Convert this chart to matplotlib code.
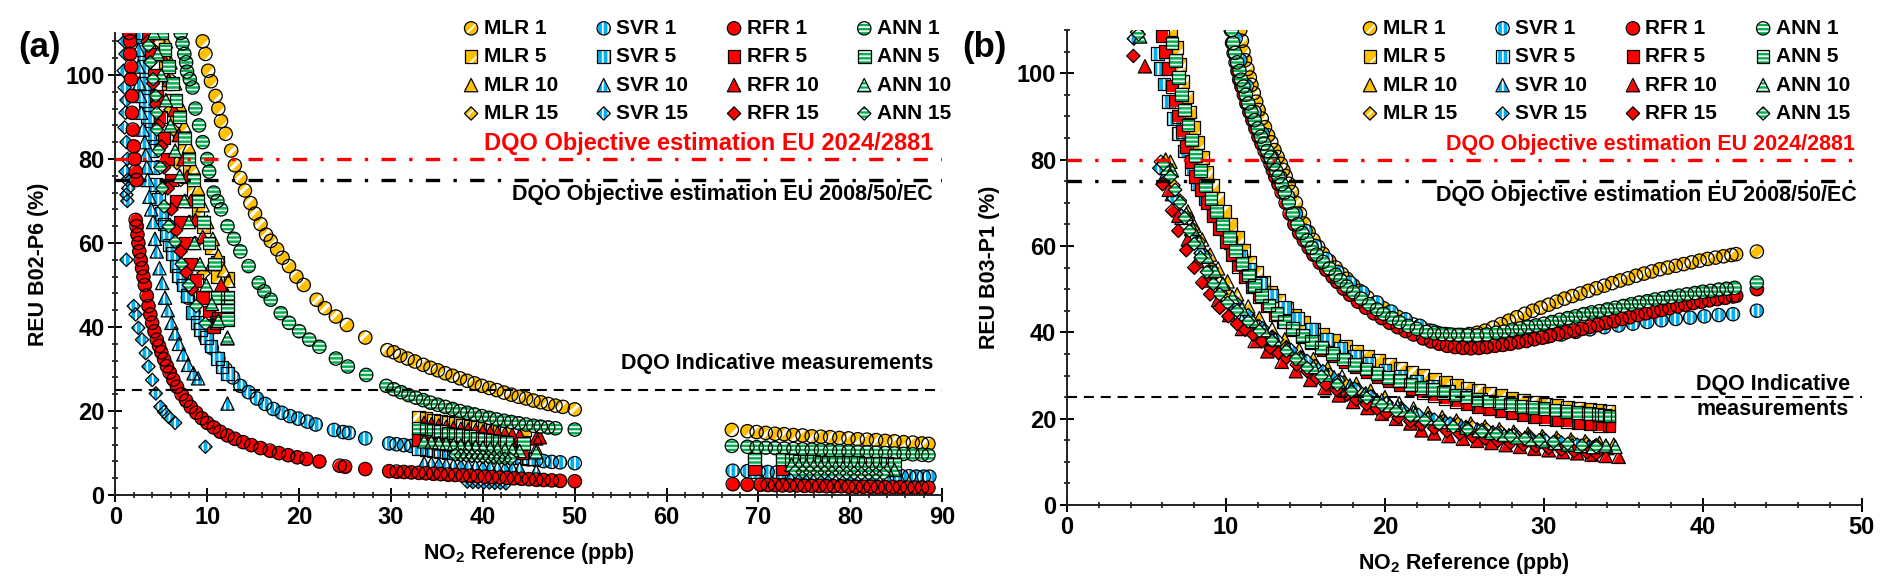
import numpy as np
import matplotlib.pyplot as plt
from matplotlib.ticker import MultipleLocator

plt.rcParams['font.family'] = ['Liberation Sans', 'DejaVu Sans']
plt.rcParams['font.weight'] = 'bold'
plt.rcParams['hatch.linewidth'] = 1.3
plt.rcParams['mathtext.fontset'] = 'custom'
plt.rcParams['mathtext.rm'] = 'Liberation Sans:bold'
plt.rcParams['mathtext.bf'] = 'Liberation Sans:bold'
plt.rcParams['mathtext.it'] = 'Liberation Sans:bold'

# ---------------- panel (a): B02-P6 ----------------
a_mlr1 = [(9.5,108),(9.8,105),(10.1,101),(10.4,98.5),(10.9,95),(11.2,92),(11.5,89),(12.0,86),(12.6,82),(13.0,78.5),(13.6,75.5),(14.1,72.5),(14.7,69.5),(15.2,67),(15.8,64.5),(16.4,62),(16.9,60.5),(17.6,58.5),(18.2,56.5),(18.9,54.5),(19.7,52),(20.5,50),(21.9,46.5),(22.8,44.5),(24.0,42.5),(25.2,40.5),(27.2,37.5),(29.6,34.5),(30.3,34),(31.0,33.2),(31.8,32.5),(32.6,31.8),(33.5,31),(34.3,30.3),(35.1,29.7),(35.9,29),(36.7,28.4),(37.5,27.8),(38.3,27.2),(39.1,26.6),(39.9,26),(40.7,25.5),(41.5,25),(42.3,24.4),(43.1,23.9),(43.9,23.4),(44.7,23),(45.5,22.5),(46.3,22.1),(47.1,21.7),(47.9,21.3),(48.7,21),(50.0,20.4),(67.1,15.5),(68.8,15.2),(69.8,15),(70.8,14.8),(71.8,14.6),(72.8,14.5),(73.8,14.3),(74.8,14.2),(75.8,14.0),(76.8,13.9),(77.8,13.8),(78.8,13.6),(79.8,13.5),(80.8,13.3),(81.8,13.2),(82.8,13.1),(83.8,12.9),(84.8,12.8),(85.8,12.6),(86.8,12.5),(87.8,12.3),(88.5,12.2)]
a_mlr5 = [(4.6,110),(5.0,106),(5.4,102),(5.8,98),(6.2,94),(6.6,90),(7.0,86),(7.5,82),(8.0,77),(8.5,72),(9.0,68),(9.6,64),(10.4,59),(11.1,55.5),(11.1,52),(12.2,51.5),(33.0,18.5),(33.8,18.2),(34.6,17.9),(35.4,17.6),(36.2,17.3),(37.0,17.0),(37.8,16.7),(38.6,16.4),(39.4,16.1),(40.2,15.8),(41.0,15.5),(41.8,15.3),(42.6,15.1),(44.5,15.5),(69.6,9.8),(72.6,9.8),(73.6,9.3),(74.4,9.2),(75.2,9.1),(76.0,9.0),(76.8,8.9),(77.6,8.8),(78.4,8.7),(79.2,8.7),(80.0,8.6),(80.8,8.5),(81.6,8.5),(82.4,8.4),(83.2,8.3),(84.0,8.3)]
a_mlr10 = [(5.5,108),(6.0,103),(6.5,98),(7.0,93),(7.5,88),(8.0,83),(8.5,78),(9.0,73),(9.5,69),(10.0,65),(10.6,61),(11.2,57),(11.8,53.5),(12.3,51),(33.6,14.2),(34.4,14.0),(35.2,13.8),(36.0,13.6),(36.8,13.4),(37.6,13.2),(38.4,13.0),(39.2,12.9),(40.0,12.7),(40.8,12.5),(41.6,12.4),(42.4,12.2),(43.2,12.1),(44.0,11.9),(45.8,11.0),(73.6,8.6),(74.4,8.5),(75.2,8.4),(76.0,8.3),(76.8,8.2),(77.6,8.1),(78.4,8.0),(79.2,7.9),(80.0,7.8),(80.8,7.7),(81.6,7.6),(82.4,7.5),(83.2,7.4),(84.0,7.3)]
a_mlr15 = [(4.7,108),(5.3,104),(6.0,99),(6.0,91.7),(6.3,87),(6.7,79),(7.1,75),(7.6,70),(8.1,65),(8.7,60),(9.6,52.8),(38.0,13.8),(38.6,13.6),(39.2,13.4),(39.8,13.2),(40.4,13.0),(41.0,12.9),(41.6,12.7),(42.2,12.6),(42.8,12.4),(74.0,8.0),(74.8,7.9),(75.6,7.8),(76.4,7.7),(77.2,7.6),(78.0,7.5),(78.8,7.4),(79.6,7.3),(80.4,7.3),(81.2,7.2),(82.0,7.1),(82.8,7.0),(83.6,7.0)]
a_svr1 = [(3.0,108),(3.2,104),(3.4,100),(3.6,96),(3.8,92),(4.0,88),(4.3,83),(4.6,78),(5.0,73),(5.4,68),(5.8,64),(6.3,59),(6.8,55),(7.3,51),(7.9,47),(8.5,43.5),(9.1,40.5),(9.8,37.5),(10.5,35),(11.2,32.5),(12.0,30),(12.8,28),(13.6,26),(14.5,24.5),(15.4,23),(16.3,21.7),(17.2,20.5),(18.1,19.6),(19.0,18.8),(19.9,18.2),(20.9,17.5),(21.8,16.8),(23.8,15.5),(24.8,15),(25.4,14.8),(27.2,13.5),(29.8,12.3),(30.6,12.1),(31.4,11.9),(32.2,11.7),(33.0,11.5),(33.8,11.3),(34.6,11.1),(35.4,10.9),(36.2,10.7),(37.0,10.5),(37.8,10.3),(38.6,10.1),(39.4,9.9),(40.2,9.7),(41.0,9.5),(41.8,9.3),(42.6,9.1),(43.4,8.9),(44.2,8.7),(45.0,8.5),(45.8,8.3),(46.6,8.1),(47.5,7.9),(48.4,7.8),(50.0,7.6),(67.2,5.8),(68.8,5.7),(70.0,5.6),(71.0,5.5),(72.0,5.4),(73.0,5.3),(74.0,5.2),(75.0,5.1),(76.0,5.0),(77.0,5.0),(78.0,4.9),(79.0,4.9),(80.0,4.8),(81.0,4.8),(82.0,4.7),(83.0,4.7),(84.0,4.6),(84.8,4.6),(85.6,4.5),(86.4,4.5),(87.2,4.4),(88.0,4.4),(88.6,4.4)]
a_svr5 = [(2.9,110),(3.0,106),(3.1,102),(3.2,98),(3.3,94),(3.5,90),(3.7,86),(3.9,82),(4.1,78),(4.4,74),(4.7,70.5),(5.0,67),(5.3,64.5),(5.6,62),(5.9,59.5),(6.2,57.5),(6.6,54.5),(6.9,52.3),(7.4,50),(7.8,47.5),(8.4,43.5),(8.9,41),(9.3,39.5),(9.9,37.5),(10.4,35.5),(11.1,32.5),(11.6,30.5),(12.2,29),(33.0,11.0),(33.8,10.8),(34.6,10.6),(35.4,10.4),(36.2,10.2),(37.0,10.0),(37.8,9.9),(38.6,9.8),(39.4,9.7),(40.2,9.6),(41.0,9.5),(41.8,9.3),(42.6,9.2),(43.4,9.0),(44.2,8.8),(45.0,8.6),(69.6,5.7),(72.6,5.6),(73.6,5.5),(74.4,5.5),(75.2,5.4),(76.0,5.4),(76.8,5.3),(77.6,5.3),(78.4,5.2),(79.2,5.2),(80.0,5.1),(80.8,5.1),(81.6,5.0),(82.4,5.0),(83.2,5.0),(84.0,4.9),(84.8,4.9)]
a_svr10 = [(2.5,106),(2.5,102),(2.6,98),(2.7,95),(2.8,91),(3.0,87),(3.2,84),(3.3,81),(3.4,78),(3.5,75),(3.7,71),(3.9,68),(4.1,65),(4.3,61),(4.5,58),(4.8,54),(5.1,50.5),(5.4,47),(5.7,44),(6.1,41),(6.5,38.5),(6.9,36),(7.4,33.5),(7.9,31),(8.5,29),(9.0,27.8),(12.2,21.8),(33.6,7.6),(34.4,7.5),(35.2,7.3),(36.0,7.2),(36.8,7.1),(37.6,7.0),(38.4,6.9),(39.2,6.8),(40.0,6.7),(40.8,6.6),(41.6,6.5),(42.4,6.4),(43.2,6.3),(44.0,6.2),(45.8,5.6),(73.6,4.8),(74.4,4.7),(75.2,4.7),(76.0,4.6),(76.8,4.5),(77.6,4.5),(78.4,4.4),(79.2,4.4),(80.0,4.3),(80.8,4.2),(81.6,4.2),(82.4,4.1),(83.2,4.1),(84.0,4.0)]
a_svr15 = [(1.0,108),(1.1,105),(0.9,101),(1.0,97),(1.2,94),(1.1,91),(1.0,87.5),(1.2,84),(1.3,80),(1.1,77),(1.3,75),(1.4,73),(1.2,71.5),(1.3,70),(1.2,56),(2.0,45),(2.2,43),(2.5,39.8),(2.9,37),(3.3,33.8),(3.6,30.6),(4.0,27.4),(4.4,24.2),(4.9,21),(5.3,19.8),(5.8,18.6),(6.5,17.2),(9.8,11.5),(38.3,3.2),(38.9,3.1),(39.5,3.1),(40.1,3.0),(40.7,3.0),(41.3,2.9),(41.9,2.9),(42.5,2.8),(74.0,2.6),(74.8,2.5),(75.6,2.5),(76.4,2.4),(77.2,2.4),(78.0,2.4),(78.8,2.3),(79.6,2.3),(80.4,2.3),(81.2,2.2),(82.0,2.2),(82.8,2.2),(83.6,2.1)]
a_rfr1 = [(1.5,110),(1.6,108),(1.6,105),(1.7,102),(1.7,99),(1.8,95),(1.8,91),(1.9,87),(2.0,83),(2.1,80),(2.2,77),(2.3,75),(2.2,65.5),(2.3,64),(2.4,62),(2.5,60),(2.6,58),(2.75,56),(2.9,54),(3.05,52),(3.2,50),(3.4,47.5),(3.6,45),(3.8,43),(4.0,41),(4.25,39),(4.5,37),(4.75,35.5),(5.0,34),(5.3,32.3),(5.6,30.7),(5.9,29.2),(6.3,27.5),(6.7,25.8),(7.2,24),(7.7,22.5),(8.2,21),(8.8,19.6),(9.4,18.3),(10.0,17.2),(10.7,16.1),(11.4,15.1),(12.2,14.2),(13.0,13.4),(13.9,12.6),(14.8,11.9),(15.8,11.2),(16.8,10.6),(17.8,10.0),(18.8,9.5),(19.8,9.0),(20.8,8.6),(22.2,8.0),(24.4,7.0),(25.0,6.8),(27.2,6.2),(29.8,5.7),(30.6,5.6),(31.4,5.5),(32.2,5.4),(33.0,5.3),(33.8,5.2),(34.6,5.1),(35.4,5.0),(36.2,4.9),(37.0,4.8),(37.8,4.7),(38.6,4.6),(39.4,4.5),(40.2,4.4),(41.0,4.3),(41.8,4.2),(42.6,4.1),(43.4,4.0),(44.2,3.9),(45.0,3.8),(45.8,3.7),(46.6,3.6),(47.5,3.5),(48.4,3.4),(50.0,3.3),(67.2,2.6),(68.8,2.5),(70.2,2.5),(71.0,2.4),(71.8,2.4),(72.6,2.3),(73.4,2.3),(74.2,2.3),(75.0,2.2),(75.8,2.2),(76.6,2.2),(77.4,2.1),(78.2,2.1),(79.0,2.1),(79.8,2.0),(80.6,2.0),(81.4,2.0),(82.2,2.0),(83.0,1.9),(83.8,1.9),(84.6,1.9),(85.4,1.9),(86.2,1.8),(87.0,1.8),(87.8,1.8),(88.5,1.8)]
a_rfr5 = [(3.6,110),(3.9,105),(4.2,100),(4.5,95),(4.9,90),(5.3,85),(5.7,80),(6.1,75),(6.6,70),(7.1,65),(7.6,60),(8.2,55),(8.8,51),(9.5,47),(10.2,43.5),(10.7,40),(11.0,41),(11.2,42),(33.0,13.2),(33.8,13.0),(34.6,12.8),(35.4,12.6),(36.2,12.4),(37.0,12.2),(37.8,12.0),(38.6,11.8),(39.4,11.6),(40.2,11.4),(41.0,11.2),(41.8,11.0),(42.6,10.8),(44.3,10.0),(69.6,6.2),(72.6,6.2),(73.6,7.8),(74.4,7.7),(75.2,7.6),(76.0,7.6),(76.8,7.5),(77.6,7.4),(78.4,7.4),(79.2,7.3),(80.0,7.3),(80.8,7.2),(81.6,7.2),(82.4,7.1),(83.2,7.1),(84.0,7.0)]
a_rfr10 = [(4.5,110),(5.0,105),(5.8,98.8),(6.4,91.7),(6.9,85.7),(7.4,80),(7.8,75.8),(8.2,70),(8.7,65.5),(9.5,61.5),(10.5,55),(11.5,50),(12.2,47.6),(12.2,37.3),(33.6,17.2),(34.4,16.9),(35.2,16.6),(36.0,16.3),(36.8,16.0),(37.6,15.8),(38.4,15.6),(39.2,15.4),(40.0,15.2),(40.8,15.0),(41.6,14.8),(42.4,14.6),(43.2,14.4),(44.0,14.2),(45.8,13.5),(46.2,13.8),(73.6,9.2),(74.4,9.1),(75.2,9.0),(76.0,9.0),(76.8,8.9),(77.6,8.9),(78.4,8.8),(79.2,8.8),(80.0,8.7),(80.8,8.7),(81.6,8.6),(82.4,8.6),(83.2,8.5),(84.0,8.5)]
a_rfr15 = [(3.5,108),(3.8,103),(4.1,98),(4.4,93),(4.7,88),(5.0,83),(5.3,78),(5.7,73),(6.1,68),(6.6,63),(7.1,58),(7.7,53),(8.3,49),(35.0,12.2),(35.8,12.0),(36.6,11.9),(37.4,11.8),(38.2,11.6),(39.0,11.5),(39.8,11.4),(40.6,11.3),(41.4,11.2),(42.2,11.1),(43.0,11.0),(74.0,7.6),(74.8,7.5),(75.6,7.5),(76.4,7.4),(77.2,7.4),(78.0,7.3),(78.8,7.3),(79.6,7.2),(80.4,7.2),(81.2,7.1),(82.0,7.1),(82.8,7.0),(83.6,7.0)]
a_ann1 = [(7.1,110),(7.3,107.5),(7.5,105),(7.7,103),(7.8,100.8),(8.1,99),(8.4,97),(8.7,92),(9.1,88),(9.5,84),(10.0,80),(10.2,77),(10.7,72),(11.1,70),(11.5,68),(12.2,64),(12.9,61),(13.6,58),(14.5,54.5),(15.6,50.5),(16.2,48.5),(16.9,46.5),(18.0,43.3),(18.9,41),(20.0,39),(21.1,37),(22.2,35.3),(24.0,32.5),(25.3,30.6),(27.3,28.6),(29.5,26),(30.3,25.2),(31.1,24.5),(31.9,23.8),(32.7,23.2),(33.5,22.6),(34.3,22),(35.1,21.5),(35.9,21),(36.7,20.5),(37.5,20),(38.3,19.6),(39.1,19.2),(39.9,18.8),(40.7,18.4),(41.5,18),(42.3,17.7),(43.1,17.4),(43.9,17.1),(44.7,16.8),(45.5,16.5),(46.3,16.3),(47.1,16.1),(47.9,15.9),(50.0,15.6),(67.1,11.7),(68.8,11.5),(69.8,11.4),(70.8,11.3),(71.8,11.2),(72.8,11.1),(73.8,11.0),(74.8,10.9),(75.8,10.8),(76.8,10.7),(77.8,10.6),(78.8,10.5),(79.8,10.4),(80.8,10.3),(81.8,10.2),(82.8,10.1),(83.8,10.0),(84.8,9.9),(85.8,9.8),(86.8,9.7),(87.8,9.6),(88.5,9.5)]
a_ann5 = [(5.0,110),(5.4,106),(5.8,102),(6.2,98),(6.6,94),(7.0,90),(7.5,85),(8.0,80),(8.5,75),(9.0,70),(9.6,65),(10.2,60),(10.8,55),(11.1,47),(12.2,47),(12.2,45),(12.2,41.8),(33.0,16.0),(33.8,15.7),(34.6,15.4),(35.4,15.1),(36.2,14.8),(37.0,14.5),(37.8,14.2),(38.6,13.9),(39.4,13.6),(40.2,13.3),(41.0,13.0),(41.8,12.8),(42.6,12.6),(44.4,12.2),(69.6,8.6),(72.6,8.6),(73.6,8.2),(74.4,8.1),(75.2,8.0),(76.0,8.0),(76.8,7.9),(77.6,7.9),(78.4,7.8),(79.2,7.8),(80.0,7.7),(80.8,7.7),(81.6,7.6),(82.4,7.6),(83.2,7.5),(84.0,7.5),(84.8,7.4)]
a_ann10 = [(4.2,110),(4.6,105),(5.0,100),(5.5,94),(6.0,88),(6.5,82),(7.0,76),(7.5,70),(8.0,65),(8.6,60),(9.2,55),(9.9,50),(10.5,45.5),(11.2,41.5),(12.2,37.5),(33.6,12.8),(34.4,12.6),(35.2,12.4),(36.0,12.2),(36.8,12.0),(37.6,11.8),(38.4,11.6),(39.2,11.5),(40.0,11.3),(40.8,11.1),(41.6,11.0),(42.4,10.8),(43.2,10.7),(44.0,10.5),(45.8,10.2),(73.6,7.2),(74.4,7.1),(75.2,7.0),(76.0,6.9),(76.8,6.8),(77.6,6.7),(78.4,6.6),(79.2,6.5),(80.0,6.5),(80.8,6.4),(81.6,6.3),(82.4,6.2),(83.2,6.2),(84.0,6.1),(84.8,6.0)]
a_ann15 = [(3.6,107),(3.8,103),(4.1,99),(4.4,95),(4.5,91),(4.5,87),(4.7,82),(4.9,78),(5.1,73),(5.3,68.7),(5.8,64),(6.5,60.3),(7.2,55),(8.0,50),(8.8,45),(9.8,40.8),(37.0,9.6),(37.6,9.5),(38.2,9.4),(38.8,9.3),(39.4,9.2),(40.0,9.1),(40.6,9.0),(41.2,8.9),(41.8,8.8),(42.4,8.7),(43.0,8.6),(74.0,5.6),(74.8,5.5),(75.6,5.5),(76.4,5.4),(77.2,5.4),(78.0,5.3),(78.8,5.3),(79.6,5.2),(80.4,5.2),(81.2,5.1),(82.0,5.1),(82.8,5.0),(83.6,5.0)]

# ---------------- panel (b): B03-P1 ----------------
b_mlr1 = [(10.9,110),(11.0,107.5),(11.1,105),(11.2,103),(11.35,101),(11.5,99),(11.6,97.3),(11.75,95.4),(11.9,93.4),(12.05,91.5),(12.25,89.5),(12.45,87.5),(12.65,85.6),(12.85,84),(13.05,82.2),(13.25,80.6),(13.45,79),(13.6,77.6),(13.75,76.2),(13.95,74.4),(14.15,72.5),(14.4,70),(14.65,67.5),(14.9,65.2),(15.2,63.2),(15.5,61.4),(15.8,59.8),(16.1,58.2),(16.5,56.5),(16.9,55),(17.3,53.5),(17.6,52.4),(18.0,50.9),(18.4,49.6),(18.9,48.1),(19.4,46.8),(19.9,45.6),(20.3,44.6),(20.8,43.6),(21.3,42.7),(21.8,41.8),(22.3,41.1),(22.8,40.4),(23.3,39.9),(23.8,39.6),(24.3,39.4),(24.8,39.4),(25.3,39.6),(25.8,39.9),(26.3,40.4),(26.8,41.1),(27.3,41.9),(27.8,42.7),(28.3,43.5),(28.8,44.3),(29.3,45.0),(29.8,45.7),(30.3,46.4),(30.8,47.1),(31.3,47.8),(31.8,48.4),(32.3,49.0),(32.8,49.6),(33.3,50.2),(33.8,50.8),(34.3,51.4),(34.8,52.0),(35.3,52.5),(35.8,53.1),(36.3,53.6),(36.8,54.1),(37.3,54.6),(37.8,55.0),(38.3,55.4),(38.8,55.8),(39.3,56.2),(39.8,56.6),(40.3,57.0),(40.8,57.3),(41.3,57.6),(41.8,57.9),(42.1,58.1),(43.4,58.7)]
b_mlr5 = [(6.5,110),(6.9,106),(7.1,102),(7.3,98),(7.5,94.5),(7.7,91),(7.95,87.5),(8.2,84),(8.5,80.5),(8.8,77),(9.15,74),(9.5,71),(9.9,68),(10.3,65),(10.7,62),(11.1,59),(11.5,56.3),(11.9,53.8),(12.35,51.5),(12.8,49.3),(13.3,47.3),(13.8,45.5),(14.3,43.9),(14.9,42.3),(15.5,40.8),(16.1,39.5),(16.8,38.1),(17.5,36.8),(18.2,35.6),(18.9,34.5),(19.6,33.5),(20.3,32.6),(21.0,31.7),(21.7,30.8),(22.4,30.0),(23.1,29.2),(23.8,28.5),(24.5,27.8),(25.2,27.1),(25.9,26.5),(26.6,25.9),(27.3,25.3),(28.0,24.8),(28.7,24.3),(29.4,23.8),(30.1,23.4),(30.8,23.0),(31.5,22.7),(32.2,22.4),(32.9,22.1),(33.5,21.9),(34.1,21.7)]
b_mlr10 = [(6.2,80),(6.5,79.5),(7.6,68),(8.0,64.7),(8.5,61.5),(9.0,58),(9.5,54.8),(10.1,51.8),(10.7,48.8),(11.4,46),(12.1,43.3),(12.9,40.8),(13.7,38.4),(14.6,36),(15.5,33.8),(16.4,31.7),(17.3,29.8),(18.2,28.1),(19.1,26.5),(20.0,25),(20.9,23.6),(21.8,22.4),(22.7,21.3),(23.6,20.4),(24.5,19.6),(25.4,18.9),(26.3,18.2),(27.2,17.6),(28.1,17.0),(29.0,16.5),(29.9,16.0),(30.8,15.6),(31.7,15.2),(32.6,14.8),(33.5,14.4),(34.4,14.0)]
b_mlr15 = [(4.4,109.5),(5.9,79.5),(6.3,77),(6.7,74),(7.1,70.5),(7.5,67),(7.9,64),(8.3,61),(8.7,57.8),(9.1,54.8),(9.6,51.5),(10.1,49),(10.7,46.5),(11.4,43.8),(12.1,41.4),(12.9,39),(13.8,36.6),(14.7,34.3),(15.6,32.2),(16.5,30.2),(17.4,28.4),(18.3,26.7),(19.2,25.1),(20.1,23.7),(21.0,22.4),(21.9,21.3),(22.8,20.3),(23.7,19.5),(24.6,18.8),(25.5,18.1),(26.4,17.5),(27.3,16.9),(28.2,16.4),(29.1,15.9),(30.0,15.4),(30.9,15.0),(31.8,14.6),(32.7,14.2),(33.3,13.9)]
b_svr1 = [(10.6,108),(10.9,103),(11.3,97),(11.8,91),(12.3,86),(12.9,80.5),(13.4,76),(13.9,71.5),(14.4,67.5),(15.0,63.5),(15.6,60),(16.3,57),(17.0,54),(17.8,51.5),(18.6,49.2),(19.5,46.9),(20.4,44.8),(21.3,43),(22.2,41.5),(23.0,40.3),(23.9,39.4),(24.8,38.8),(25.7,38.5),(26.6,38.4),(27.5,38.4),(28.4,38.5),(29.3,38.7),(30.2,39.0),(31.1,39.5),(32.0,40.1),(32.9,40.7),(33.8,41.2),(34.7,41.6),(35.6,42.0),(36.5,42.4),(37.4,42.8),(38.3,43.1),(39.2,43.4),(40.1,43.7),(41.0,44.0),(41.9,44.2),(43.4,45.0)]
b_svr5 = [(5.7,104.5),(5.9,101),(6.1,97.5),(6.4,93.5),(6.7,89.5),(7.0,86),(7.4,82),(7.8,78),(8.2,74.5),(8.7,71),(9.2,67.5),(9.7,64.3),(10.3,60.8),(10.9,57.5),(11.5,54.5),(12.2,51.4),(12.9,48.6),(13.7,45.8),(14.5,43.2),(15.4,40.6),(16.3,38.3),(17.2,36.3),(18.1,34.5),(19.0,32.9),(20.0,31.3),(21.0,29.9),(22.0,28.6),(23.0,27.4),(24.0,26.3),(25.0,25.3),(26.0,24.4),(27.0,23.6),(28.0,22.9),(29.0,22.2),(30.0,21.6),(31.0,21.0),(32.0,20.5),(33.0,20.0),(34.1,19.6)]
b_svr10 = [(6.1,76),(6.6,72),(7.2,66.5),(7.8,62),(8.4,57.8),(9.0,54),(9.7,50.3),(10.4,47.2),(11.2,44.2),(12.0,41.5),(12.9,38.8),(13.8,36.4),(14.8,34),(15.8,31.7),(16.8,29.6),(17.8,27.7),(18.8,25.9),(19.8,24.3),(20.8,22.8),(21.8,21.5),(22.8,20.3),(23.8,19.3),(24.8,18.4),(25.8,17.6),(26.8,16.9),(27.8,16.2),(28.8,15.6),(29.8,15.0),(30.8,14.5),(31.8,14.0),(32.8,13.6),(34.0,13.2)]
b_svr15 = [(4.2,108),(5.8,78),(6.2,75),(6.7,71),(7.2,67),(7.8,62.5),(8.4,58.3),(9.1,54),(9.8,50.5),(10.6,47),(11.4,44),(12.3,41),(13.2,38.3),(14.1,35.9),(15.1,33.4),(16.1,31),(17.1,28.9),(18.1,27),(19.1,25.2),(20.1,23.6),(21.1,22.2),(22.1,20.9),(23.1,19.8),(24.1,18.9),(25.1,18.1),(26.1,17.4),(27.1,16.7),(28.1,16.1),(29.1,15.5),(30.1,15.0),(31.1,14.5),(32.1,14.0),(33.2,13.6)]
b_rfr1 = [(10.3,110),(10.38,107),(10.48,104.7),(10.6,102.5),(10.72,100.5),(10.83,98.5),(10.97,96.9),(11.12,95),(11.28,93),(11.47,91),(11.66,89.1),(11.85,87.2),(12.04,85.3),(12.23,83.7),(12.43,82),(12.62,80.5),(12.8,79),(12.95,77.5),(13.1,76),(13.3,74.3),(13.5,72.4),(13.75,70),(14.0,67.5),(14.3,65),(14.6,63),(14.9,61.3),(15.2,59.6),(15.5,58),(15.9,56.1),(16.3,54.5),(16.7,52.9),(17.0,51.7),(17.4,50.1),(17.8,48.7),(18.3,47.1),(18.8,45.7),(19.3,44.4),(19.8,43.3),(20.3,42.2),(20.8,41.2),(21.3,40.3),(21.8,39.5),(22.4,38.6),(22.9,37.9),(23.4,37.4),(23.9,36.9),(24.4,36.6),(24.9,36.4),(25.4,36.3),(25.9,36.4),(26.4,36.6),(26.9,36.9),(27.4,37.1),(27.9,37.4),(28.4,37.7),(28.9,38.0),(29.4,38.4),(29.9,38.8),(30.4,39.2),(30.9,39.6),(31.4,40.0),(31.9,40.4),(32.4,40.8),(32.9,41.3),(33.4,41.7),(33.9,42.2),(34.4,42.6),(34.9,43.1),(35.4,43.5),(35.9,44.0),(36.4,44.4),(36.9,44.8),(37.4,45.2),(37.9,45.6),(38.4,46.0),(38.9,46.4),(39.4,46.8),(39.9,47.1),(40.4,47.4),(40.9,47.7),(41.4,48.0),(41.9,48.3),(42.1,48.5),(43.4,50.0)]
b_rfr5 = [(6.0,108.6),(6.2,105),(6.4,101),(6.6,97),(6.8,93.5),(7.0,90),(7.25,86.5),(7.5,83),(7.8,79.5),(8.1,76),(8.45,73),(8.8,70),(9.2,67),(9.6,64),(10.0,61),(10.4,58),(10.8,55.3),(11.2,52.8),(11.65,50.5),(12.1,48.3),(12.6,46.1),(13.1,44.2),(13.6,42.5),(14.2,40.7),(14.8,39.1),(15.4,37.5),(16.1,35.9),(16.8,34.5),(17.5,33.2),(18.2,32.0),(18.9,30.8),(19.6,29.7),(20.3,28.7),(21.0,27.8),(21.7,26.9),(22.4,26.1),(23.1,25.4),(23.8,24.7),(24.5,24.0),(25.2,23.4),(25.9,22.8),(26.6,22.3),(27.3,21.8),(28.0,21.3),(28.7,20.9),(29.4,20.5),(30.1,20.1),(30.8,19.7),(31.5,19.4),(32.2,19.1),(32.9,18.8),(33.5,18.5),(34.1,18.3)]
b_rfr10 = [(4.9,101.6),(6.4,73),(7.0,67),(7.6,61.5),(8.2,56.5),(8.8,52),(9.5,47.5),(10.2,44),(11.0,40.8),(11.8,38),(12.6,35.6),(13.5,33.2),(14.4,31),(15.3,29),(16.2,27.1),(17.1,25.4),(18.0,23.9),(18.9,22.5),(19.8,21.2),(20.7,20),(21.6,18.9),(22.3,17.3),(23.1,16.6),(24.0,16.0),(24.9,15.4),(25.8,14.9),(26.7,14.4),(27.6,13.9),(28.5,13.5),(29.4,13.1),(30.3,12.7),(31.2,12.3),(32.1,12.0),(33.0,11.7),(33.9,11.4),(34.7,11.2)]
b_rfr15 = [(4.17,104),(6.0,74.3),(6.6,68.2),(7.0,63.5),(7.5,59),(8.0,55),(8.5,51.5),(9.0,48.8),(9.6,45.7),(10.15,43.7),(10.7,41.9),(11.2,40.6),(11.7,39.5),(12.25,37.9),(12.8,36.4),(13.3,35.2),(13.8,34.1),(14.45,32.5),(15.1,31),(15.7,29.4),(16.3,27.9),(16.95,26.7),(17.6,25.6),(18.2,24.4),(18.85,23.3),(19.5,22.3),(20.1,21.3),(20.85,20.3),(21.6,19.4),(22.3,18.6),(23.1,17.8),(23.9,17.1),(24.7,16.5),(25.5,15.9),(26.3,15.4),(27.1,14.9),(27.9,14.4),(28.7,14.0),(29.5,13.6),(30.3,13.2),(31.1,12.8),(31.9,12.5),(32.7,12.2),(33.3,11.9)]
b_ann1 = [(10.36,110),(10.45,107),(10.57,104.7),(10.7,102.5),(10.85,100.5),(10.95,98.5),(11.1,96.9),(11.25,95),(11.4,93),(11.6,91),(11.8,89.1),(12.0,87.2),(12.2,85.3),(12.4,83.7),(12.6,82),(12.8,80.5),(13.0,79),(13.15,77.5),(13.3,76),(13.5,74.3),(13.7,72.4),(13.95,70),(14.2,67.5),(14.5,65),(14.8,63),(15.1,61.3),(15.4,59.6),(15.7,58),(16.1,56.3),(16.5,54.8),(16.9,53.3),(17.2,52.1),(17.6,50.6),(18.0,49.3),(18.5,47.8),(19.0,46.5),(19.5,45.3),(19.9,44.3),(20.45,43.3),(20.9,42.4),(21.45,41.5),(22.0,40.8),(22.6,40.1),(23.1,39.8),(23.6,39.6),(24.1,39.5),(24.6,39.4),(25.2,39.3),(25.8,39.3),(26.4,39.5),(27.0,39.9),(27.5,40.2),(28.0,40.6),(28.5,40.9),(29.0,41.3),(29.5,41.6),(30.0,42.0),(30.5,42.4),(31.0,42.9),(31.5,43.3),(32.0,43.7),(32.5,44.2),(33.0,44.6),(33.5,44.9),(34.0,45.3),(34.5,45.7),(35.0,46.1),(35.5,46.5),(36.0,46.9),(36.5,47.2),(37.0,47.6),(37.5,47.9),(38.0,48.2),(38.5,48.5),(39.0,48.8),(39.5,49.1),(40.0,49.4),(40.5,49.6),(41.0,49.9),(41.5,50.1),(42.0,50.3),(43.4,51.5)]
b_ann5 = [(6.6,107),(6.8,103),(7.0,99),(7.2,95),(7.4,91.5),(7.6,88),(7.85,84.5),(8.1,81),(8.4,77.5),(8.7,74),(9.05,71),(9.4,68),(9.8,65),(10.2,62),(10.6,59),(11.0,56),(11.4,53.3),(11.8,50.8),(12.25,48.5),(12.7,46.3),(13.2,44.3),(13.7,42.5),(14.2,40.9),(14.8,39.3),(15.4,37.8),(16.0,36.5),(16.7,35.1),(17.4,33.8),(18.1,32.6),(18.8,31.5),(19.5,30.5),(20.2,29.6),(20.9,28.8),(21.6,28.0),(22.3,27.3),(23.0,26.7),(23.7,26.1),(24.4,25.5),(25.1,25.0),(25.8,24.5),(26.5,24.1),(27.2,23.7),(27.9,23.3),(28.6,22.9),(29.3,22.6),(30.0,22.3),(30.7,22.0),(31.4,21.7),(32.1,21.4),(32.8,21.2),(33.4,21.0),(33.8,20.8),(34.1,20.6)]
b_ann10 = [(4.6,108.5),(6.3,78),(6.6,77.5),(7.5,67.4),(7.9,64),(8.3,61),(8.8,57.5),(9.3,54.3),(9.8,51.3),(10.4,48.2),(11.0,45.5),(11.7,42.7),(12.4,40.5),(13.1,38.4),(13.9,36.2),(14.7,34),(15.5,32),(16.3,30.2),(17.1,28.5),(17.9,27),(18.7,25.6),(19.5,24.3),(20.3,23.1),(21.1,22),(21.9,21),(22.7,20.1),(23.5,19.3),(24.3,18.6),(25.1,17.9),(25.9,17.3),(26.7,16.7),(27.5,16.2),(28.3,15.7),(29.1,15.2),(29.9,14.8),(30.7,14.4),(31.5,14.0),(32.3,13.7),(33.1,13.4),(33.9,13.8),(34.5,13.5)]
b_ann15 = [(4.5,109),(6.06,79),(6.5,76),(6.8,73),(7.1,70),(7.4,66.5),(7.7,63.5),(8.0,60.5),(8.4,57.3),(8.8,54),(9.2,51.2),(9.6,48.8),(10.1,46.8),(10.7,45),(11.4,42.5),(12.1,40.3),(12.9,38),(13.8,35.7),(14.4,33.8),(15.1,31.8),(16.0,29.8),(17.0,27.9),(17.9,26.3),(18.85,24.8),(19.8,23.2),(20.7,21.8),(21.6,20.6),(22.5,19.6),(23.4,18.8),(24.3,18.1),(25.2,17.5),(26.1,16.9),(27.0,16.4),(27.9,15.9),(28.8,15.4),(29.7,15.0),(30.6,14.6),(31.5,14.2),(32.4,13.8),(33.3,13.5)]

MODELS = ['MLR', 'SVR', 'RFR', 'ANN']
LEVELS = [1, 5, 10, 15]

panel_a = {('MLR', 1): a_mlr1, ('MLR', 5): a_mlr5, ('MLR', 10): a_mlr10, ('MLR', 15): a_mlr15,
           ('SVR', 1): a_svr1, ('SVR', 5): a_svr5, ('SVR', 10): a_svr10, ('SVR', 15): a_svr15,
           ('RFR', 1): a_rfr1, ('RFR', 5): a_rfr5, ('RFR', 10): a_rfr10, ('RFR', 15): a_rfr15,
           ('ANN', 1): a_ann1, ('ANN', 5): a_ann5, ('ANN', 10): a_ann10, ('ANN', 15): a_ann15}
panel_b = {('MLR', 1): b_mlr1, ('MLR', 5): b_mlr5, ('MLR', 10): b_mlr10, ('MLR', 15): b_mlr15,
           ('SVR', 1): b_svr1, ('SVR', 5): b_svr5, ('SVR', 10): b_svr10, ('SVR', 15): b_svr15,
           ('RFR', 1): b_rfr1, ('RFR', 5): b_rfr5, ('RFR', 10): b_rfr10, ('RFR', 15): b_rfr15,
           ('ANN', 1): b_ann1, ('ANN', 5): b_ann5, ('ANN', 10): b_ann10, ('ANN', 15): b_ann15}

FACE = {'MLR': '#FFC000', 'SVR': '#00B0F0', 'RFR': '#FF0000', 'ANN': '#00B050'}
HATCH = {'MLR': '//', 'SVR': '|||', 'RFR': None, 'ANN': '----'}
HATCH_LW = {'MLR': 2.4, 'SVR': 1.3, 'RFR': 1.0, 'ANN': 1.2}
MARK = {1: ('o', 92), 5: ('s', 84), 10: ('^', 92), 15: ('D', 46)}


def draw_panel(ax, series):
    handles, labels = [], []
    for m in MODELS:
        for lv in LEVELS:
            pts = np.array(series[(m, lv)])
            mk, size = MARK[lv]
            # white hatch follows the (invisible) white edge, outline drawn on top
            with plt.rc_context({'hatch.linewidth': HATCH_LW[m]}):
                fill = ax.scatter(pts[:, 0], pts[:, 1], s=size, marker=mk,
                                  facecolor=FACE[m], edgecolor='white', linewidth=0,
                                  hatch=HATCH[m], zorder=2)
            edge = ax.scatter(pts[:, 0], pts[:, 1], s=size, marker=mk,
                              facecolor='none', edgecolor='black', linewidth=0.9, zorder=2)
            handles.append((fill, edge))
            labels.append(f'{m} {lv}')
    return handles, labels


def style_axes(ax, xmax, xminor, yminor, ylabel):
    ax.set_xlim(0, xmax)
    ax.set_ylim(0, 110)
    ax.xaxis.set_major_locator(MultipleLocator(10))
    ax.xaxis.set_minor_locator(MultipleLocator(xminor))
    ax.yaxis.set_major_locator(MultipleLocator(20))
    ax.yaxis.set_minor_locator(MultipleLocator(yminor))
    for s in ['top', 'right']:
        ax.spines[s].set_visible(False)
    for s in ['left', 'bottom']:
        ax.spines[s].set_linewidth(1.4)
        ax.spines[s].set_color('#222222')
    ax.tick_params(which='major', direction='inout', length=9.5, width=1.4, labelsize=17, pad=3)
    ax.tick_params(which='minor', direction='inout', length=5, width=1.1)
    for lab in ax.get_xticklabels() + ax.get_yticklabels():
        lab.set_fontweight('bold')
    ax.set_xlabel(r'NO$_{\mathbf{2}}$ Reference (ppb)', fontsize=15.5, fontweight='bold', labelpad=9)
    ax.set_ylabel(ylabel, fontsize=15.5, fontweight='bold', labelpad=12)
    ax.axhline(80, color='red', lw=2.4, linestyle=(0, (4.3, 4, 1, 4)), zorder=3)
    ax.axhline(75, color='black', lw=2.4, linestyle=(0, (4.3, 4, 1, 4)), zorder=3)
    ax.axhline(25, color='black', lw=1.5, linestyle=(0, (4.8, 3.3)), zorder=3)


def add_legend(ax, fig, handles, labels, x0):
    return ax.legend(handles, labels, ncol=4, loc='upper left',
                     bbox_to_anchor=(x0, 0.968), bbox_transform=fig.transFigure,
                     frameon=False, prop={'weight': 'bold', 'size': 15},
                     handlelength=0.8, handletextpad=0.2, columnspacing=1.8,
                     labelspacing=0.45, borderpad=0, borderaxespad=0, scatterpoints=1)


fig = plt.figure(figsize=(18.92, 5.88), dpi=100)
ax_a = fig.add_axes([0.061, 0.158, 0.437, 0.786])
ax_b = fig.add_axes([0.564, 0.141, 0.420, 0.808])

# panel (a)
ha, la = draw_panel(ax_a, panel_a)
style_axes(ax_a, 90, 2, 4, 'REU B02-P6 (%)')
add_legend(ax_a, fig, ha, la, 0.2446)
txt = dict(fontweight='bold', ha='right', va='baseline', zorder=4)
ax_a.text(89, 82.2, 'DQO Objective estimation EU 2024/2881', color='red', fontsize=17, **txt)
ax_a.text(89, 70.3, 'DQO Objective estimation EU 2008/50/EC', color='black', fontsize=15.5, **txt)
ax_a.text(89, 30.0, 'DQO Indicative measurements', color='black', fontsize=15.5, **txt)
fig.text(0.0095, 0.948, '(a)', fontsize=25, fontweight='bold', va='top')

# panel (b)
hb, lb = draw_panel(ax_b, panel_b)
style_axes(ax_b, 50, 2, 5, 'REU B03-P1 (%)')
add_legend(ax_b, fig, hb, lb, 0.7197)
ax_b.text(49.6, 82.2, 'DQO Objective estimation EU 2024/2881', color='red', fontsize=15.5, **txt)
ax_b.text(49.7, 70.3, 'DQO Objective estimation EU 2008/50/EC', color='black', fontsize=15.5, **txt)
ctr = dict(fontsize=15.5, fontweight='bold', ha='center', va='baseline', zorder=4)
ax_b.text(44.4, 26.7, 'DQO Indicative', color='black', **ctr)
ax_b.text(44.4, 20.9, 'measurements', color='black', **ctr)
fig.text(0.5085, 0.948, '(b)', fontsize=25, fontweight='bold', va='top')

fig.savefig('out.png', dpi=100)
